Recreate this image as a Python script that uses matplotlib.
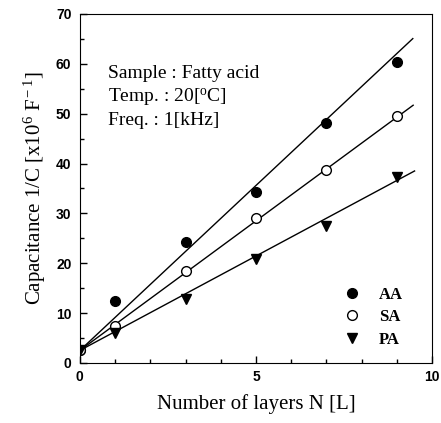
import matplotlib
matplotlib.use("Agg")
import matplotlib.pyplot as plt
import numpy as np
from matplotlib.ticker import MultipleLocator

# layers and 1/C values
layers = [0, 1, 3, 5, 7, 9]
aa = [2.5, 12.5, 24.3, 34.3, 48.2, 60.3]
sa = [2.5, 7.5, 18.5, 29.0, 38.7, 49.5]
pa = [2.5, 6.0, 12.8, 20.8, 27.5, 37.2]

# fitted lines (intercept, slope), drawn up to x_end
fit_aa = (2.5, 6.62)
fit_sa = (2.5, 5.20)
fit_pa = (2.5, 3.79)
x_end = [9.45, 9.46, 9.5]

serif = "Liberation Serif"
sans = "Liberation Sans"
plt.rcParams["mathtext.fontset"] = "custom"
plt.rcParams["mathtext.rm"] = serif
plt.rcParams["mathtext.it"] = serif + ":italic"

fig = plt.figure(figsize=(4.41, 4.23), dpi=100)
ax = fig.add_axes([0.181, 0.142, 0.799, 0.825])

for fit, xe in zip([fit_aa, fit_sa, fit_pa], x_end):
    xx = np.array([0, xe])
    ax.plot(xx, fit[0] + fit[1] * xx, color="black", lw=1.0, zorder=1)

ax.plot(layers, aa, "o", ms=7, color="black", label="AA", zorder=3)
ax.plot(layers, sa, "o", ms=7, mfc="white", mec="black", mew=1.0, label="SA", zorder=3)
ax.plot(layers, pa, "v", ms=7, color="black", label="PA", zorder=3)

ax.set_xlim(0, 10)
ax.set_ylim(0, 70)
ax.xaxis.set_major_locator(MultipleLocator(5))
ax.xaxis.set_minor_locator(MultipleLocator(1))
ax.yaxis.set_major_locator(MultipleLocator(10))
ax.yaxis.set_minor_locator(MultipleLocator(5))
ax.tick_params(which="both", direction="in", top=False, right=False)
ax.tick_params(which="major", length=5, width=1, labelsize=10)
ax.tick_params(which="minor", length=3, width=1)
ax.tick_params(axis="x", pad=5)
ax.tick_params(axis="y", pad=6)
for lab in ax.get_xticklabels() + ax.get_yticklabels():
    lab.set_fontfamily(sans)
    lab.set_fontweight("bold")

ax.set_xlabel("Number of layers N [L]", fontfamily=serif, fontsize=15, labelpad=7)
ax.set_ylabel(r"Capacitance 1/C [x10$^{\rm 6}$ F$^{\rm -1}$]", fontfamily=serif, fontsize=15, labelpad=6)

ax.text(0.08, 0.855, "Sample : Fatty acid\nTemp. : 20[$^{\\rm o}$C]\nFreq. : 1[kHz]",
        transform=ax.transAxes, fontfamily=serif, fontsize=14, va="top",
        linespacing=1.33)

leg = ax.legend(loc="lower right", bbox_to_anchor=(0.96, 0.0), frameon=False,
                prop={"family": serif, "weight": "bold", "size": 12},
                handletextpad=1.1, labelspacing=0.4, handlelength=1.0)

fig.savefig("out.png", dpi=100)
